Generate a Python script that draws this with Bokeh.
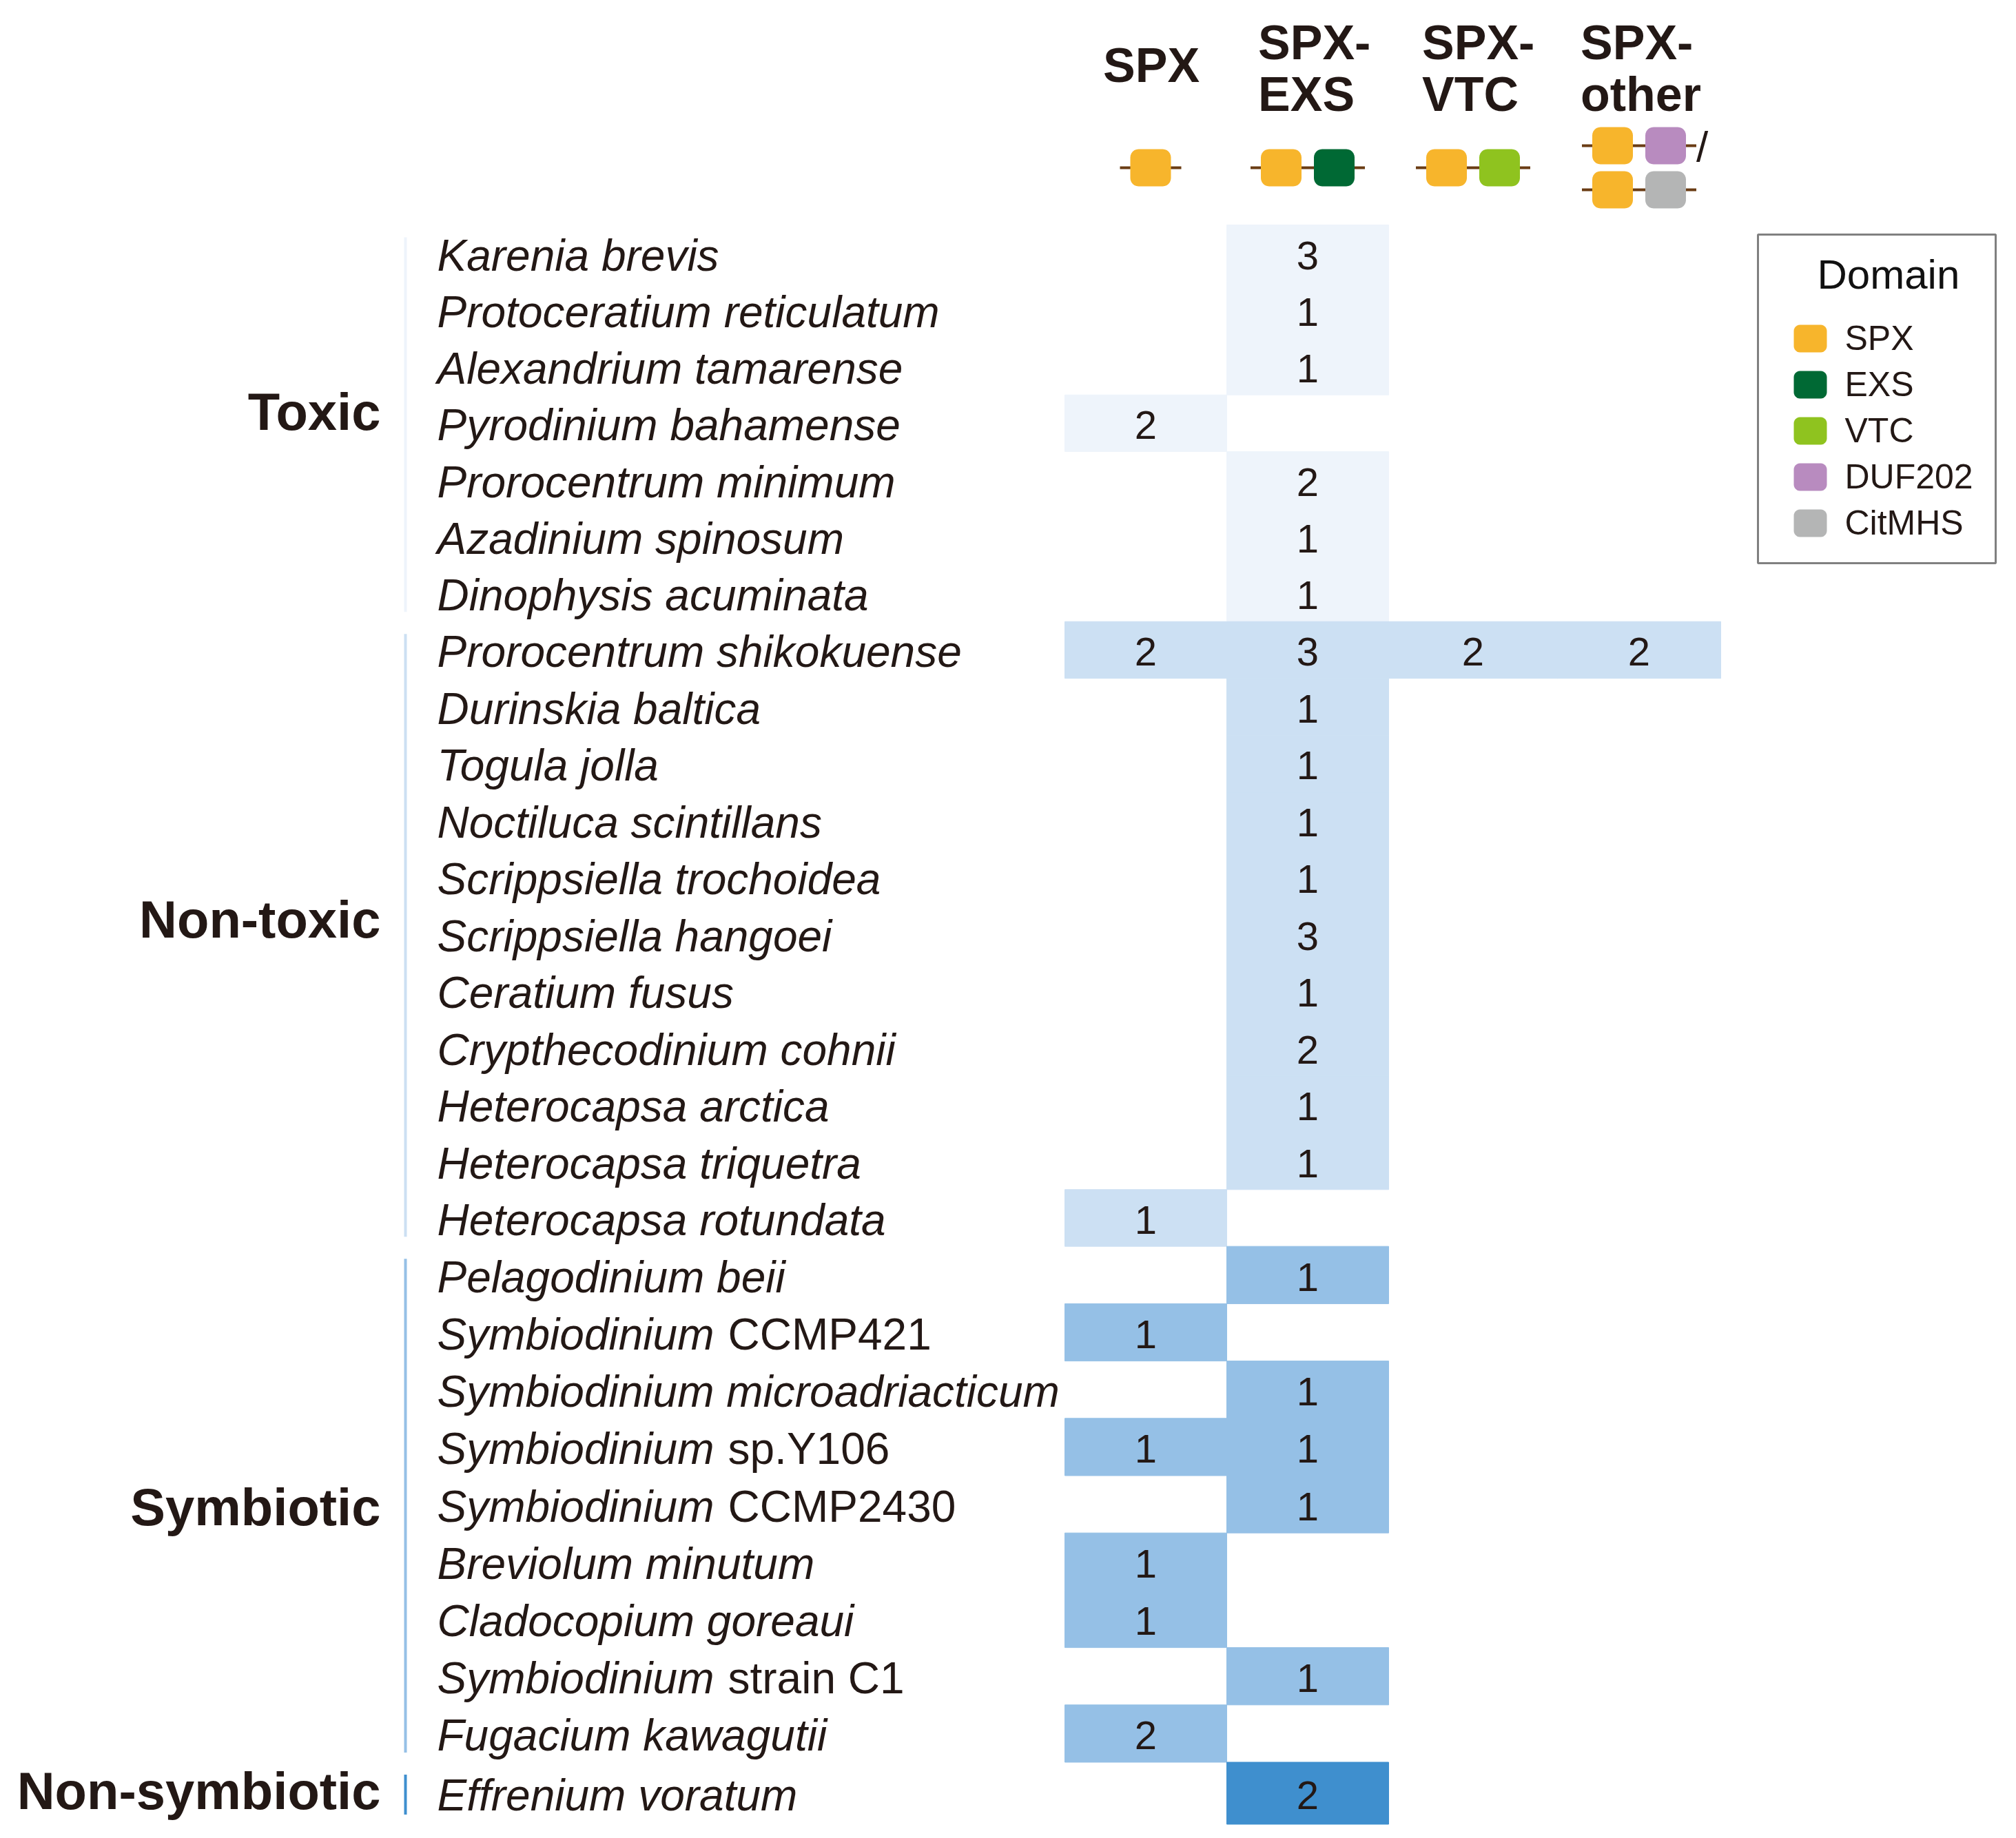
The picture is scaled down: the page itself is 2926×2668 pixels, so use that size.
import numpy as np
from bokeh.plotting import figure
from bokeh.models import Range1d, ColumnDataSource
from bokeh.core.properties import value
from bokeh.embed import file_html
from bokeh.resources import INLINE

# ---------------- data ----------------
species_italic = [
    "Karenia brevis", "Protoceratium reticulatum", "Alexandrium tamarense",
    "Pyrodinium bahamense", "Prorocentrum minimum", "Azadinium spinosum",
    "Dinophysis acuminata",
    "Prorocentrum shikokuense", "Durinskia baltica", "Togula jolla",
    "Noctiluca scintillans", "Scrippsiella trochoidea", "Scrippsiella hangoei",
    "Ceratium fusus", "Crypthecodinium cohnii", "Heterocapsa arctica",
    "Heterocapsa triquetra", "Heterocapsa rotundata",
    "Pelagodinium beii", "Symbiodinium", "Symbiodinium microadriacticum",
    "Symbiodinium", "Symbiodinium", "Breviolum minutum", "Cladocopium goreaui",
    "Symbiodinium", "Fugacium kawagutii",
    "Effrenium voratum",
]
species_suffix = [
    "", "", "", "", "", "", "",
    "", "", "", "", "", "", "", "", "", "", "",
    "", "CCMP421", "", "sp.Y106", "CCMP2430", "", "", "strain C1", "",
    "",
]
groups = ["Toxic"] * 7 + ["Non-toxic"] * 11 + ["Symbiotic"] * 9 + ["Non-symbiotic"] * 1
group_names = ["Toxic", "Non-toxic", "Symbiotic", "Non-symbiotic"]
group_colors = ["#EEF4FB", "#CCE0F3", "#95C0E6", "#3F8FCE"]

columns = ["SPX", "SPX-EXS", "SPX-VTC", "SPX-other"]
header_line1 = ["", "SPX-", "SPX-", "SPX-"]
header_line2 = ["", "EXS", "VTC", "other"]

N = None
spx       = [N, N, N, 2, N, N, N,   2, N, N, N, N, N, N, N, N, N, 1,   N, 1, N, 1, N, 1, 1, N, 2,   N]
spx_exs   = [3, 1, 1, N, 2, 1, 1,   3, 1, 1, 1, 1, 3, 1, 2, 1, 1, N,   1, N, 1, 1, 1, N, N, 1, N,   2]
spx_vtc   = [N, N, N, N, N, N, N,   2, N, N, N, N, N, N, N, N, N, N,   N, N, N, N, N, N, N, N, N,   N]
spx_other = [N, N, N, N, N, N, N,   2, N, N, N, N, N, N, N, N, N, N,   N, N, N, N, N, N, N, N, N,   N]
values = [spx, spx_exs, spx_vtc, spx_other]

domains = ["SPX", "EXS", "VTC", "DUF202", "CitMHS"]
domain_colors = ["#F7B52C", "#006934", "#8FC31F", "#B88BBF", "#B4B5B5"]
column_architectures = [
    [["SPX"]],
    [["SPX", "EXS"]],
    [["SPX", "VTC"]],
    [["SPX", "DUF202"], ["SPX", "CitMHS"]],
]

# ---------------- layout / style ----------------
FONT = value("Liberation Sans")
INK = "#231815"
TOP = 326.0
GROUP_RH = {"Toxic": 82.25, "Non-toxic": 82.45, "Symbiotic": 83.2, "Non-symbiotic": 90.0}
COL_EDGES = [1545, 1780, 2015, 2260, 2497]
NAME_X = 634
SUFFIX_DX = 422
GROUP_LINE_X = 588
LABEL_X = 552
ICON_W, ICON_H, ICON_R, ICON_PITCH = 59, 54, 12, 77
STEM = "#6A3C14"

p = figure(width=2910, height=2652,
           x_range=Range1d(0, 2910), y_range=Range1d(2652, 0),
           output_backend="svg", toolbar_location=None, min_border=0,
           x_axis_location=None, y_axis_location=None,
           background_fill_color="white", border_fill_color="white")
p.grid.visible = False
p.outline_line_color = None

nrows = len(species_italic)
row_h = [GROUP_RH[g] for g in groups]
row_top = list(TOP + np.concatenate([[0], np.cumsum(row_h)[:-1]]))
row_c = [row_top[i] + row_h[i] / 2 for i in range(nrows)]
col_c = [(COL_EDGES[j] + COL_EDGES[j + 1]) / 2 for j in range(len(columns))]
col_w = [COL_EDGES[j + 1] - COL_EDGES[j] for j in range(len(columns))]
gcolor = dict(zip(group_names, group_colors))

# heatmap cells
cx, cy, cw, ch, cc, ct = [], [], [], [], [], []
for j, col in enumerate(values):
    for i, v in enumerate(col):
        if v is None:
            continue
        cx.append(col_c[j]); cy.append(row_c[i]); cw.append(col_w[j]); ch.append(row_h[i])
        cc.append(gcolor[groups[i]]); ct.append(str(v))
cells = ColumnDataSource(dict(x=cx, y=cy, w=cw, h=ch, c=cc, t=ct, ty=[y + 3 for y in cy]))
p.rect(x="x", y="y", width="w", height="h", fill_color="c", line_color="c",
       line_width=1, source=cells)
p.text(x="x", y="ty", text="t", source=cells, text_font=FONT, text_font_size="58px",
       text_color=INK, text_align="center", text_baseline="middle")

# species names
names = ColumnDataSource(dict(x=[NAME_X] * nrows, y=[y + 3 for y in row_c], t=species_italic))
p.text(x="x", y="y", text="t", source=names, text_font=FONT, text_font_size="64px",
       text_font_style="italic", text_color=INK, text_align="left", text_baseline="middle")
sx = [NAME_X + SUFFIX_DX for i in range(nrows) if species_suffix[i]]
sy = [row_c[i] + 3 for i in range(nrows) if species_suffix[i]]
st = [s for s in species_suffix if s]
p.text(x=sx, y=sy, text=st, text_font=FONT, text_font_size="64px",
       text_color=INK, text_align="left", text_baseline="middle")

# group brackets and labels
label_dy = [-17, -21, 4, -4]
for k, g in enumerate(group_names):
    idx = [i for i in range(nrows) if groups[i] == g]
    g_top = row_top[idx[0]]
    g_bot = row_top[idx[-1]] + row_h[idx[-1]]
    p.segment(x0=[GROUP_LINE_X], y0=[g_top + 18], x1=[GROUP_LINE_X], y1=[g_bot - 14],
              line_color=group_colors[k], line_width=4)
    ym = (g_top + g_bot) / 2 + label_dy[k]
    p.text(x=[LABEL_X], y=[ym], text=[g], text_font=FONT, text_font_size="76px",
           text_font_style="bold", text_color=INK, text_align="right", text_baseline="middle")

# column headers
head_dx = [-62, -72, -74, -85]
for j in range(len(columns)):
    hx = col_c[j] + head_dx[j]
    if header_line1[j]:
        p.text(x=[hx, hx], y=[61, 136], text=[header_line1[j], header_line2[j]],
               text_font=FONT, text_font_size="70px", text_font_style="bold",
               text_color=INK, text_align="left", text_baseline="middle")
    else:
        p.text(x=[hx], y=[94], text=[columns[j]], text_font=FONT, text_font_size="70px",
               text_font_style="bold", text_color=INK, text_align="left", text_baseline="middle")


def rounded(cx0, cy0, w, h, r, n=7):
    xs, ys = [], []
    specs = [(cx0 + w / 2 - r, cy0 + h / 2 - r, 0), (cx0 - w / 2 + r, cy0 + h / 2 - r, 90),
             (cx0 - w / 2 + r, cy0 - h / 2 + r, 180), (cx0 + w / 2 - r, cy0 - h / 2 + r, 270)]
    for ccx, ccy, a0 in specs:
        a = np.radians(np.linspace(a0, a0 + 90, n))
        xs.extend(ccx + r * np.cos(a)); ys.extend(ccy + r * np.sin(a))
    return xs, ys


dcolor = dict(zip(domains, domain_colors))
for j, arch_rows in enumerate(column_architectures):
    nr = len(arch_rows)
    ys_rows = [243] if nr == 1 else [211, 275]
    for r_i, arch in enumerate(arch_rows):
        yc = ys_rows[r_i]
        n = len(arch)
        xc0 = col_c[j] + 7 - (n - 1) * ICON_PITCH / 2 if j == 0 else col_c[j] - (n - 1) * ICON_PITCH / 2
        first_left = xc0 - ICON_W / 2 - 15
        last_right = xc0 + (n - 1) * ICON_PITCH + ICON_W / 2 + 15
        p.segment(x0=[first_left], y0=[yc], x1=[last_right], y1=[yc], line_color=STEM, line_width=4)
        pxs, pys, pcs = [], [], []
        for d_i, d in enumerate(arch):
            rx, ry = rounded(xc0 + d_i * ICON_PITCH, yc, ICON_W, ICON_H, ICON_R)
            pxs.append(rx); pys.append(ry); pcs.append(dcolor[d])
        p.patches(xs=pxs, ys=pys, fill_color=pcs, line_color=None)
        if nr > 1 and r_i == 0:
            p.text(x=[last_right], y=[212], text=["/"], text_font=FONT, text_font_size="62px",
                   text_color=INK, text_align="left", text_baseline="middle")

# legend
p.rect(x=[(2551 + 2896) / 2], y=[(340 + 817) / 2], width=[2896 - 2551], height=[817 - 340],
       fill_color="white", line_color="#808080", line_width=3)
p.text(x=[2637], y=[398], text=["Domain"], text_font=FONT, text_font_size="60px",
       text_color="#111111", text_align="left", text_baseline="middle")
leg_y = [491 + 67 * k for k in range(len(domains))]
lxs, lys = [], []
for k in range(len(domains)):
    rx, ry = rounded(2627, leg_y[k], 48, 40, 9)
    lxs.append(rx); lys.append(ry)
p.patches(xs=lxs, ys=lys, fill_color=domain_colors, line_color=None)
p.text(x=[2677] * len(domains), y=[y - 1 for y in leg_y], text=domains, text_font=FONT,
       text_font_size="50px", text_color=INK, text_align="left", text_baseline="middle")

open("out.html", "w").write(file_html(p, INLINE))
